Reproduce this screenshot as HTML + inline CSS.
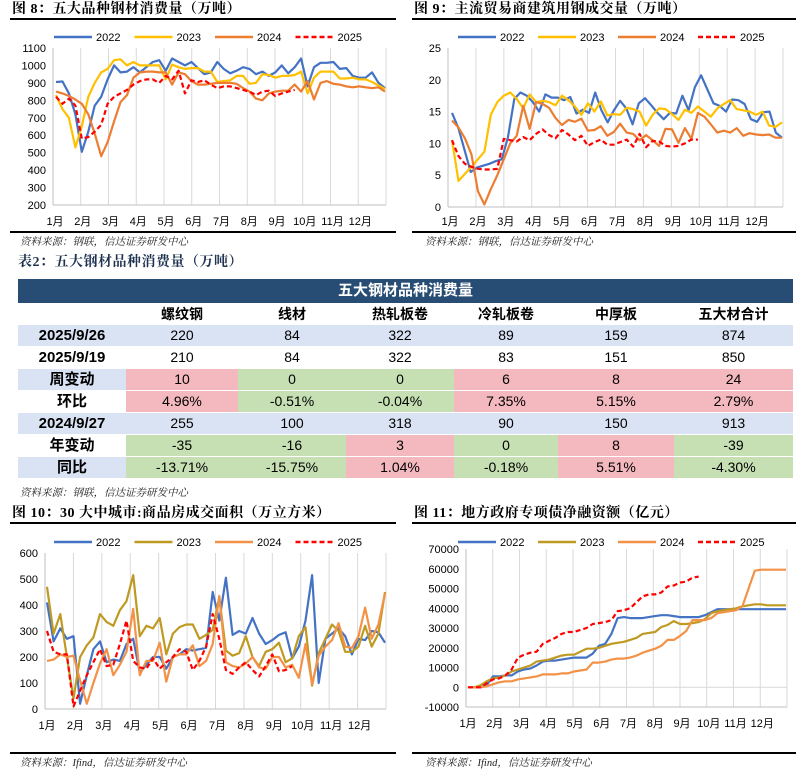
<!DOCTYPE html>
<html><head><meta charset="utf-8">
<style>
html,body{margin:0;padding:0;background:#fff;}
body{width:807px;height:771px;position:relative;overflow:hidden;font-family:"Liberation Sans","Noto Sans CJK SC",sans-serif;}
svg{position:absolute;left:0;top:0;}
.tt{font-family:"Liberation Serif","Noto Serif CJK SC",serif;font-weight:bold;font-size:14px;fill:#000;letter-spacing:0.5px;}
.src{font-family:"Liberation Serif","Noto Serif CJK SC",serif;font-style:italic;font-size:10.5px;fill:#222;}
.ax{font-size:11px;fill:#000;}
#tbl{position:absolute;left:18px;top:279px;width:775px;}
.cell{position:absolute;height:21px;line-height:21px;text-align:center;font-size:14px;color:#000;font-family:"Liberation Sans","Noto Sans CJK SC",sans-serif;}
.lab{font-weight:bold;font-size:15px;font-family:"Liberation Sans","Noto Sans CJK SC",sans-serif;}
.hd{font-weight:bold;font-size:14px;font-family:"Liberation Sans","Noto Sans CJK SC",sans-serif;}
</style></head><body>
<svg id="main" width="807" height="771">
<text class="tt" x="12" y="13">图 8：五大品种钢材消费量（万吨）</text>
<rect x="10" y="18" width="386" height="2" fill="#000"/>
<rect x="10" y="231" width="386" height="2" fill="#000"/>
<text class="src" x="20" y="245">资料来源：钢联，信达证券研发中心</text>

<text class="tt" x="414" y="13">图 9：主流贸易商建筑用钢成交量（万吨）</text>
<rect x="412" y="18" width="384" height="2" fill="#000"/>
<rect x="412" y="231" width="384" height="2" fill="#000"/>
<text class="src" x="425" y="245">资料来源：钢联，信达证券研发中心</text>

<text class="tt" x="18" y="266" fill="#1f3350" style="fill:#1f3350">表2：五大钢材品种消费量（万吨）</text>
<text class="src" x="20" y="496">资料来源：钢联，信达证券研发中心</text>

<text class="tt" x="12" y="517">图 10：30 大中城市:商品房成交面积（万立方米）</text>
<rect x="10" y="522" width="386" height="2" fill="#000"/>
<rect x="10" y="752" width="386" height="2" fill="#000"/>
<text class="src" x="20" y="766">资料来源：Ifind，信达证券研发中心</text>

<text class="tt" x="414" y="517">图 11：地方政府专项债净融资额（亿元）</text>
<rect x="412" y="522" width="384" height="2" fill="#000"/>
<rect x="412" y="752" width="384" height="2" fill="#000"/>
<text class="src" x="425" y="766">资料来源：Ifind，信达证券研发中心</text>
</svg>

<div id="tbl"></div>

<script>
// ---- shared ----
const months = ["1月","2月","3月","4月","5月","6月","7月","8月","9月","10月","11月","12月"];
const legendYears = ["2022","2023","2024","2025"];

// ---- chart 8 data ----
const c8Ticks = [200,300,400,500,600,700,800,900,1000,1100];
const c8_2022 = [905,908,840,720,505,620,770,820,920,1000,960,965,990,960,990,1020,1030,970,1040,1020,1000,1020,985,950,960,1020,980,955,970,990,980,950,965,940,960,1000,955,990,1040,880,990,1015,1015,1020,980,985,940,930,930,960,900,870];
const c8_2023 = [830,750,700,530,650,820,900,960,980,1030,1035,1000,1020,1000,1000,1000,1000,920,1005,990,980,985,985,965,965,905,910,915,940,940,895,900,950,945,930,940,940,945,965,840,930,965,965,965,925,925,930,920,920,905,885,865];
const c8_2024 = [850,840,825,805,780,720,610,480,560,680,790,830,930,960,965,965,960,960,890,960,950,910,890,890,895,900,900,900,895,870,850,810,800,840,850,855,855,890,850,910,805,900,910,895,890,880,875,880,875,870,875,850];
const c8_2025 = [820,780,810,770,580,590,620,660,780,820,840,860,890,910,920,920,900,940,920,970,840,915,905,915,890,870,880,880,870,860,850,830,850,855,825,840,850,860];

// ---- chart 9 data ----
const c9Ticks = [0,5,10,15,20,25];
const c9_2022 = [14.8,12.5,9,5.5,6.2,6.5,6.8,7.2,7.5,11,17,18,17.5,16.5,15,17.7,17.2,17.2,16.8,17.3,14.7,15.3,14.8,18,15.2,13.3,15.2,16.7,15.5,13,16.3,17.1,16,14.8,13.8,14.8,14.7,17.5,15.2,18.8,20.7,18.5,16.3,15.9,15,16.9,16.8,16.2,13.8,13.4,14.9,15,11.7,10.9];
const c9_2023 = [10.5,4.1,5.2,6.3,7.5,8.7,14.5,16.5,17.5,18,17,15.5,17.7,16.5,16.7,16.5,16,17.5,16.8,15.8,14.5,16.3,15,16.6,14.4,14.6,14.5,15.6,15.4,15,12.8,14.5,15.5,15.4,14.6,13.7,15.3,14.8,15.8,15,14.2,15.5,16.2,16.8,15.4,15.2,15,14.5,15,12.8,12.6,13.3];
const c9_2024 = [13.6,12.5,10.8,8.3,2.5,0.4,2.8,5,7.5,10,11.2,15.9,12.3,16.5,16.2,15.6,14,12.9,13.7,13.4,13.9,12,12.1,12.7,11.2,11.8,13.1,11.7,11.5,10.5,11.3,10.5,9.6,12.3,12.2,10.1,12.4,10.7,14.8,14.2,13,11.7,12,11.7,12.4,11.2,11.6,11.4,11.3,11.4,10.9,10.9];
const c9_2025 = [10.5,8,6.8,6.3,6,5.9,5.9,6,10.7,10.5,10.3,11,10.5,11.5,12.2,11.3,10.8,12.1,11.4,10.5,11.2,9.6,10.2,10.6,9.8,9.8,10.2,10.6,9.5,11.5,9.4,10.4,10.3,9.6,9.5,9.6,10,10.6,10.6];

// ---- chart 10 data ----
const c10Ticks = [0,100,200,300,400,500,600];
const c10_2022 = [410,260,310,270,280,20,130,230,260,180,190,185,250,270,140,170,200,200,155,200,210,230,225,230,235,450,340,505,285,300,290,350,290,250,265,285,295,195,240,340,515,100,270,290,310,280,210,270,265,300,295,255];
const c10_2023 = [470,290,365,200,40,200,245,275,365,335,320,380,415,515,280,320,310,350,210,290,315,325,325,270,285,305,430,225,205,215,280,200,165,220,230,255,180,195,280,315,90,215,270,325,300,220,220,240,320,240,290,450];
const c10_2024 = [185,190,210,200,205,110,20,100,175,230,130,170,220,385,130,185,185,255,105,200,210,210,245,165,185,250,435,180,165,160,175,200,160,155,200,200,160,170,120,250,95,205,240,265,330,240,235,280,390,270,325,445];
const c10_2025 = [300,220,210,210,10,70,130,180,230,165,170,250,340,185,160,155,195,155,180,200,230,220,150,185,240,365,270,150,135,160,180,150,125,165,210,145,150,165];

// ---- chart 11 data ----
const c11Ticks = [-10000,0,10000,20000,30000,40000,50000,60000,70000];
const c11_2022 = [0,0,0,1000,5500,5500,6000,6000,8000,9000,9500,11000,13000,13500,13500,14000,14500,15000,15000,15000,17000,21000,22000,27000,35000,35500,35000,35000,35000,35500,36000,36500,36500,36000,35500,35500,35500,35500,36500,38000,39500,39500,39500,39500,39500,39500,39500,39500,39500,39500,39500,39500];
const c11_2023 = [0,0,1000,3000,4500,5000,6000,8000,9000,10000,11000,13000,13500,14000,15000,16000,16500,16500,18000,19500,19500,20000,21000,22000,22500,23000,24000,25000,27000,27500,28000,30500,31500,33500,32000,32000,32500,33000,34500,37500,38500,39000,39500,40000,41000,41500,42000,42000,41500,41500,41500,41500];
const c11_2024 = [0,0,0,500,1500,2500,3000,3000,4000,4500,5000,5500,6500,6500,6500,7000,7000,8000,8500,9000,12500,12500,13000,14000,14500,14500,15000,16000,17500,18500,19500,21000,24000,24000,26000,28500,34000,34000,34000,35000,37500,38000,38500,39000,41000,50000,59000,59500,59500,59500,59500,59500];
const c11_2025 = [0,0,0,2000,4000,4500,6000,9000,15000,16500,17500,18000,22000,23500,25000,27000,28000,28000,29000,30000,32000,32500,33000,34000,38500,39000,40000,43000,46000,47000,47000,48000,51000,51500,53000,53500,55500,56000];

const NS = "http://www.w3.org/2000/svg";
const svg = document.getElementById("main");
function mk(tag, attrs, parent){
  const e = document.createElementNS(NS, tag);
  for (const k in attrs) e.setAttribute(k, attrs[k]);
  (parent||svg).appendChild(e);
  return e;
}

function drawChart(id, cfg){
  const g = mk("g", {});
  
  
  const yMin = cfg.ticks[0], yMax = cfg.ticks[cfg.ticks.length-1];
  const ys = v => cfg.yb - (v - yMin) / (yMax - yMin) * (cfg.yb - cfg.yt);
  const mw = (cfg.x1 - cfg.x0) / 12;
  for (let k = 1; k <= 12; k++){
    const l = mk("line", {x1:cfg.x0+k*mw, x2:cfg.x0+k*mw, y1:cfg.yt, y2:cfg.yb, stroke:"#d9d9d9", "stroke-width":1}, g);
    
    
  }
  const ya = mk("line", {x1:cfg.x0, x2:cfg.x0, y1:cfg.yt, y2:cfg.yb, stroke:"#bfbfbf", "stroke-width":1}, g);
  
  
  const xa = mk("line", {x1:cfg.x0, x2:cfg.x1, y1:cfg.yb, y2:cfg.yb, stroke:"#bfbfbf", "stroke-width":1}, g);
  
  
  if (yMin < 0){
    const z = mk("line", {x1:cfg.x0, x2:cfg.x1, y1:ys(0), y2:ys(0), stroke:"#d9d9d9", "stroke-width":1}, g);
    
    
  }
  cfg.ticks.forEach(t => {
    const tx = mk("text", {x:cfg.x0-7, y:ys(t)+4, "text-anchor":"end", class:"ax"}, g);
    tx.textContent = t;
    
    
  });
  months.forEach((m,k) => {
    const tx = mk("text", {x:cfg.x0+k*mw+2, y:cfg.xl, "text-anchor":"middle", class:"ax"}, g);
    tx.textContent = m;
    
    
  });
  const xs0 = cfg.x0 + cfg.pad, xs1 = cfg.x1 - 1;
  cfg.series.forEach((s, si) => {
    const n = s.full ? s.data.length - 1 : 51;
    const pts = s.data.map((v,i) => (xs0 + i/n*(xs1-xs0)).toFixed(1) + "," + ys(v).toFixed(1)).join(" ");
    const p = mk("polyline", {points:pts, fill:"none", stroke:s.color, "stroke-width":2.2, "stroke-linejoin":"round"}, g);
    if (s.dash) p.setAttribute("stroke-dasharray","5,3");
    
    
  });
  cfg.series.forEach((s, si) => {
    const lx = cfg.lx + si*cfg.lstep;
    const l = mk("line", {x1:lx, x2:lx+38, y1:cfg.ly, y2:cfg.ly, stroke:s.color, "stroke-width":2.5}, g);
    if (s.dash) l.setAttribute("stroke-dasharray","5,3");
    
    
    const t = mk("text", {x:lx+42, y:cfg.ly+4, class:"ax"}, g);
    t.textContent = legendYears[si];
    
    
  });
}

const BL="#4472c4", YE="#ffc000", OR="#ed7d31", RD="#ff0000", OL="#bf9a23", OR2="#f39247";
drawChart("chart8", {x0:53,x1:386,yt:48,yb:205,xl:225,pad:3,ticks:c8Ticks,lx:54,lstep:80.5,ly:37,
  series:[{data:c8_2022,color:BL,full:1},{data:c8_2023,color:YE,full:1},{data:c8_2024,color:OR,full:1},{data:c8_2025,color:RD,dash:1}]});
drawChart("chart9", {x0:448,x1:783,yt:48,yb:207,xl:225,pad:4,ticks:c9Ticks,lx:458,lstep:80,ly:37,
  series:[{data:c9_2022,color:BL,full:1},{data:c9_2023,color:YE,full:1},{data:c9_2024,color:OR,full:1},{data:c9_2025,color:RD,dash:1}]});
drawChart("chart10", {x0:45,x1:386,yt:553,yb:709,xl:729,pad:2,ticks:c10Ticks,lx:54,lstep:80.5,ly:542,
  series:[{data:c10_2022,color:BL,full:1},{data:c10_2023,color:OL,full:1},{data:c10_2024,color:OR2,full:1},{data:c10_2025,color:RD,dash:1}]});
drawChart("chart11", {x0:466,x1:787,yt:549,yb:707,xl:727,pad:2,ticks:c11Ticks,lx:458,lstep:80,ly:542,
  series:[{data:c11_2022,color:BL,full:1},{data:c11_2023,color:OL,full:1},{data:c11_2024,color:OR2,full:1},{data:c11_2025,color:RD,dash:1}]});

// ---- table ----
const colHeads = ["螺纹钢","线材","热轧板卷","冷轧板卷","中厚板","五大材合计"];
const rowLabels = ["2025/9/26","2025/9/19","周变动","环比","2024/9/27","年变动","同比"];
const rowVals = [
  ["220","84","322","89","159","874"],
  ["210","84","322","83","151","850"],
  ["10","0","0","6","8","24"],
  ["4.96%","-0.51%","-0.04%","7.35%","5.15%","2.79%"],
  ["255","100","318","90","150","913"],
  ["-35","-16","3","0","8","-39"],
  ["-13.71%","-15.75%","1.04%","-0.18%","5.51%","-4.30%"]
];
const BLU="#dae3f3", RED="#f4b8bf", GRN="#c6e0b4", WH="#ffffff";
const rowBg = [BLU,WH,null,null,BLU,null,null];
const labBg = [BLU,WH,BLU,WH,BLU,WH,BLU];
const cellSign = [null,null,["r","g","g","r","r","r"],["r","g","g","r","r","r"],null,["g","g","r","g","r","g"],["g","g","r","g","r","g"]];
const colL = [0,108,220,328,436,540,656];
const colR = [108,220,328,436,540,656,775];
const tbl = document.getElementById("tbl");
function cell(x,y,w,h,txt,bg,cls,name){
  const d = document.createElement("div");
  d.className = "cell " + (cls||"");
  d.style.left = x+"px"; d.style.top = y+"px"; d.style.width = w+"px"; d.style.height = h+"px"; d.style.lineHeight = h+"px";
  if (bg) d.style.background = bg;
  d.textContent = txt;
  
  
  tbl.appendChild(d);
  return d;
}
const hb = cell(0,0,775,24,"五大钢材品种消费量","#284d74","hd","table-header-bar");
hb.style.color="#fff"; hb.style.fontSize="15px";
colHeads.forEach((h,c)=>{ cell(colL[c+1],24,colR[c+1]-colL[c+1],22,h,null,"hd","column-header"); });
rowLabels.forEach((lab,r)=>{
  const y = 46 + r*22;
  cell(0,y,colL[1],21,lab,labBg[r],"lab","row-label");
  rowVals[r].forEach((v,c)=>{
    let bg = rowBg[r];
    if (cellSign[r]) bg = cellSign[r][c]==="r" ? RED : GRN;
    cell(colL[c+1],y,colR[c+1]-colL[c+1],21,v,bg,"","table-cell");
  });
});
</script>
</body></html>
